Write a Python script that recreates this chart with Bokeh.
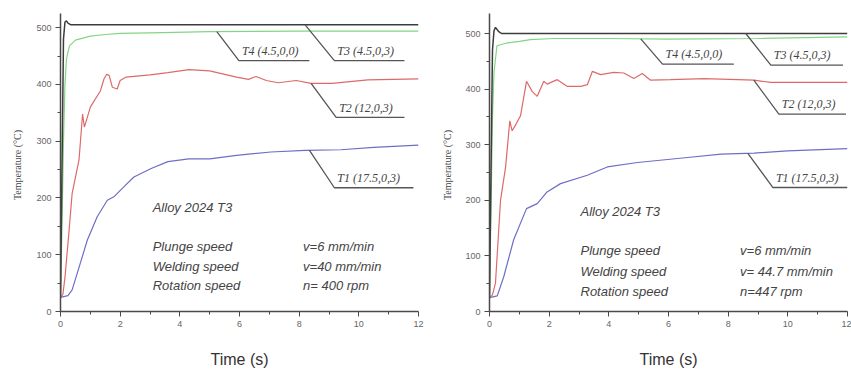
import numpy as np
from bokeh.plotting import figure
from bokeh.layouts import row
from bokeh.models import Range1d, FixedTicker
from bokeh.core.properties import value
from bokeh.embed import file_html
from bokeh.resources import INLINE

# ---------------- data: left panel (v=40 mm/min, n=400 rpm) ----------------
t1_L = [0, 0.25, 0.39, 0.67, 0.9, 1.23, 1.57, 1.79, 2.13, 2.46, 3.04, 3.6, 4.3, 5.0, 5.9, 7.05, 8.2, 9.4, 10.5, 12]
T1_L = [25, 28, 38, 86, 126, 167, 196, 202, 220, 237, 252, 264, 269, 269, 275, 281, 284, 285, 289, 293]
t2_L = [0, 0.08, 0.15, 0.28, 0.39, 0.62, 0.74, 0.8, 0.86, 1.0, 1.34, 1.46, 1.55, 1.63, 1.74, 1.9, 2.0, 2.2, 3.0, 3.6, 4.3, 5.0, 5.9, 6.3, 6.55, 6.9, 7.3, 7.9, 8.4, 9.1, 10.3, 12]
T2_L = [25, 30, 60, 138, 208, 267, 348, 325, 335, 360, 389, 410, 418, 416, 395, 392, 407, 413, 417, 421, 426, 424, 413, 409, 414, 407, 403, 407, 402, 402, 408, 410]
t3_L = [0, 0.05, 0.1, 0.15, 0.2, 0.25, 0.35, 12]
T3_L = [25, 250, 480, 510, 512, 508, 505, 505]
t4_L = [0, 0.05, 0.1, 0.15, 0.2, 0.3, 0.5, 1.0, 1.5, 2, 3, 5, 8, 12]
T4_L = [25, 150, 300, 400, 445, 468, 478, 485, 488, 490, 491, 493, 494, 494]

# ---------------- data: right panel (v=44.7 mm/min, n=447 rpm) ----------------
t1_R = [0, 0.26, 0.48, 0.81, 1.24, 1.6, 1.93, 2.38, 3.28, 3.95, 4.96, 6.64, 7.76, 8.87, 9.99, 12]
T1_R = [25, 28, 63, 129, 185, 194, 215, 230, 245, 260, 268, 277, 283, 285, 289, 293]
t2_R = [0, 0.1, 0.2, 0.37, 0.54, 0.68, 0.76, 0.9, 1.04, 1.24, 1.43, 1.6, 1.82, 1.93, 2.27, 2.6, 3.06, 3.28, 3.45, 3.72, 4.17, 4.5, 4.84, 5.12, 5.4, 6.07, 7.2, 8.87, 9.43, 12]
T2_R = [25, 30, 51, 200, 260, 343, 325, 338, 352, 414, 396, 387, 414, 409, 417, 405, 405, 408, 432, 426, 430, 429, 419, 428, 416, 417, 419, 416, 412, 412]
t3_R = [0, 0.05, 0.1, 0.15, 0.2, 0.3, 0.4, 12]
T3_R = [25, 250, 470, 505, 511, 504, 500, 500]
t4_R = [0, 0.05, 0.1, 0.15, 0.25, 0.58, 1.0, 1.37, 2.16, 4, 6, 9, 12]
T4_R = [25, 180, 350, 430, 478, 483, 486, 489, 491, 491, 490, 491, 494]

# tick labels
x_ticks = [0, 2, 4, 6, 8, 10, 12]
x_minor = [1, 3, 5, 7, 9, 11]
y_ticks = [0, 100, 200, 300, 400, 500]
y_minor = [50, 150, 250, 350, 450]

# texts
series_labels = ["T1 (17.5,0,3)", "T2 (12,0,3)", "T3 (4.5,0,3)", "T4 (4.5,0,0)"]
alloy = "Alloy 2024 T3"
param_names = ["Plunge speed", "Welding speed", "Rotation speed"]
param_vals_L = ["v=6 mm/min", "v=40 mm/min", "n= 400 rpm"]
param_vals_R = ["v=6 mm/min", "v= 44.7 mm/min", "n=447 rpm"]

# callout placement (data units): start t on curve, knee (t, T), underline end t
callouts_L = {
    "T1": (8.34, 9.18, 218, 11.83),
    "T2": (8.40, 9.24, 342, 11.53),
    "T3": (8.20, 9.18, 442, 11.53),
    "T4": (5.24, 5.98, 442, 8.34),
}
callouts_R = {
    "T1": (8.66, 9.50, 223, 12.0),
    "T2": (8.86, 9.70, 355, 11.95),
    "T3": (8.59, 9.43, 443, 11.85),
    "T4": (5.07, 5.80, 445, 8.19),
}

COLORS = {"T1": "#6e6ec4", "T2": "#dd6a6a", "T3": "#3c3c3c", "T4": "#82d682"}

H = 370
FRAME_BOTTOM = 312


def make_panel(width, border_left, border_right, border_top, ymax, curves,
               callouts, alloy_xy, names_x, vals_x, rows_y, vals, ylab_standoff):
    p = figure(width=width, height=H, output_backend="svg", toolbar_location=None,
               x_range=Range1d(0, 12), y_range=Range1d(0, ymax),
               min_border_left=border_left, min_border_right=border_right,
               min_border_top=border_top, min_border_bottom=H - FRAME_BOTTOM)
    p.outline_line_color = None
    p.xgrid.visible = False
    p.ygrid.visible = False
    p.background_fill_color = "white"
    p.border_fill_color = "white"

    p.xaxis.ticker = FixedTicker(ticks=x_ticks, minor_ticks=x_minor)
    p.yaxis.ticker = FixedTicker(ticks=y_ticks, minor_ticks=y_minor)
    for ax in (p.xaxis[0], p.yaxis[0]):
        ax.axis_line_color = "#4a4a4a"
        ax.axis_line_width = 1.5
        ax.major_tick_line_color = "#4a4a4a"
        ax.minor_tick_line_color = "#4a4a4a"
        ax.major_tick_in = 0
        ax.major_tick_out = 5
        ax.minor_tick_in = 0
        ax.minor_tick_out = 3
        ax.major_label_text_font = "Liberation Sans"
        ax.major_label_text_font_size = "9px"
        ax.major_label_text_color = "#666666"
        ax.major_label_standoff = 4
    p.xaxis.axis_label = "Time (s)"
    p.xaxis.axis_label_text_font = "Liberation Sans"
    p.xaxis.axis_label_text_font_size = "16px"
    p.xaxis.axis_label_text_font_style = "normal"
    p.xaxis.axis_label_text_color = "#333333"
    p.xaxis.axis_label_standoff = 21
    p.yaxis.axis_label = "Temperature   (°C)"
    p.yaxis.axis_label_text_font = "Liberation Serif"
    p.yaxis.axis_label_text_font_size = "10px"
    p.yaxis.axis_label_text_font_style = "normal"
    p.yaxis.axis_label_text_color = "#444444"
    p.yaxis.axis_label_standoff = ylab_standoff

    for key in ["T1", "T2", "T4", "T3"]:
        tx, ty = curves[key]
        p.line(tx, ty, line_color=COLORS[key], line_width=1.5 if key == "T3" else 1.2)

    for key, lab in zip(["T1", "T2", "T3", "T4"], series_labels):
        t0, tk, yk, tend = callouts[key]
        tx, ty = curves[key]
        y0 = float(np.interp(t0, tx, ty))
        p.line([t0, tk, tend], [y0, yk, yk], line_color="#555555", line_width=1.3)
        p.text([tk + 0.1], [yk + 5], text=[lab], text_font=value("Liberation Serif"),
               text_font_style="italic", text_font_size="12px", text_color="#444444",
               text_baseline="bottom", text_align="left")

    p.text([alloy_xy[0]], [alloy_xy[1]], text=[alloy], text_font=value("Liberation Sans"),
           text_font_style="italic", text_font_size="13px", text_color="#444444",
           text_baseline="middle")
    p.text([names_x] * 3, rows_y, text=param_names, text_font=value("Liberation Sans"),
           text_font_style="italic", text_font_size="13px", text_color="#444444",
           text_baseline="middle")
    p.text([vals_x] * 3, rows_y, text=vals, text_font=value("Liberation Sans"),
           text_font_style="italic", text_font_size="13px", text_color="#444444",
           text_baseline="middle")
    return p


curves_L = {"T1": (t1_L, T1_L), "T2": (t2_L, T2_L), "T3": (t3_L, T3_L), "T4": (t4_L, T4_L)}
curves_R = {"T1": (t1_R, T1_R), "T2": (t2_R, T2_R), "T3": (t3_R, T3_R), "T4": (t4_R, T4_R)}

p1 = make_panel(425, 60, 7, 13, 525, curves_L, callouts_L, (3.09, 184), 3.09, 8.13,
                [114, 79, 45.6], param_vals_L, 10)
p2 = make_panel(426, 64, 4, 12, 536, curves_R, callouts_R, (3.05, 179), 3.05, 8.4,
                [109, 71.6, 36], param_vals_R, 9)

layout = row(p1, p2)
open("out.html", "w").write(file_html(layout, INLINE))
